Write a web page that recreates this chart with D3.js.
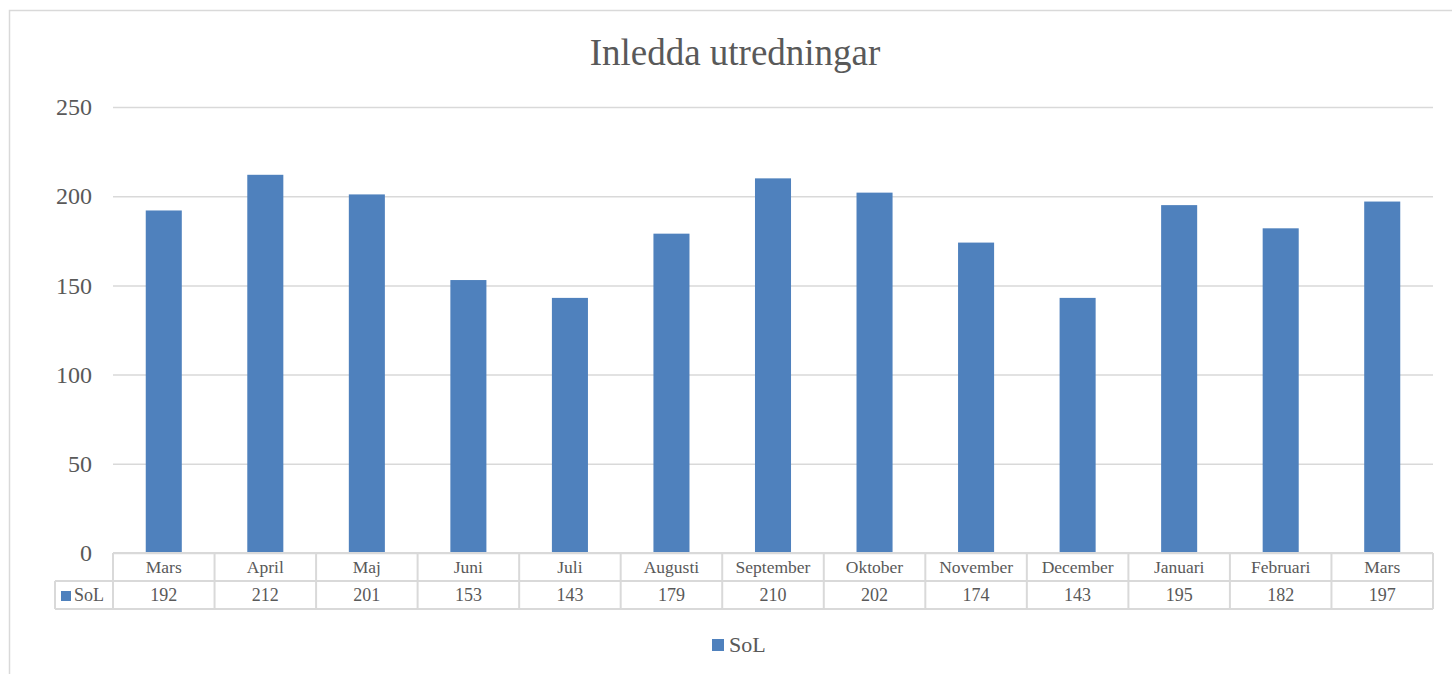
<!DOCTYPE html>
<html><head><meta charset="utf-8">
<script src="https://cdn.jsdelivr.net/npm/d3@7"></script>
<style>body{margin:0;background:#fff;} svg{display:block;}</style>
</head><body>
<script>
const title = "Inledda utredningar";
const seriesName = "SoL";
const categories = ["Mars","April","Maj","Juni","Juli","Augusti","September","Oktober","November","December","Januari","Februari","Mars"];
const values = [192,212,201,153,143,179,210,202,174,143,195,182,197];
const yTicks = [0,50,100,150,200,250];

const W = 1452, H = 674;
const font = "'Liberation Serif','Times New Roman',serif";
const textColor = "#595959", grid = "#d9d9d9", barColor = "#4F81BD";
const svg = d3.select("body").append("svg").attr("width", W).attr("height", H);

svg.append("rect").attr("x",9.5).attr("y",10.5).attr("width",1500).attr("height",800)
  .attr("fill","none").attr("stroke",grid).attr("stroke-width",1.5);

const pLeft = 113, pRight = 1433, pTop = 107, pBottom = 553;
const x = d3.scaleBand().domain(d3.range(categories.length)).range([pLeft,pRight]).paddingInner(0.645).paddingOuter(0.3225);
const xc = d3.scaleBand().domain(d3.range(categories.length)).range([pLeft,pRight]);
const y = d3.scaleLinear().domain([0,250]).range([pBottom,pTop]);

svg.append("text").attr("x",735).attr("y",65).attr("text-anchor","middle")
  .attr("font-family",font).attr("font-size",37).attr("fill",textColor).text(title);

const yAxis = d3.axisLeft(y).tickValues(yTicks).tickSize(-(pRight-pLeft)).tickPadding(21);
const gy = svg.append("g").attr("transform",`translate(${pLeft},0)`).call(yAxis);
gy.select(".domain").remove();
gy.selectAll(".tick line").attr("stroke",grid).attr("stroke-width",1.5);
gy.selectAll(".tick text").attr("font-family",font).attr("font-size",24).attr("fill",textColor);

svg.append("g").selectAll("rect").data(values).join("rect")
  .attr("x",(d,i)=>x(i)).attr("width",x.bandwidth())
  .attr("y",d=>y(d)).attr("height",d=>y(0)-y(d)).attr("fill",barColor);

// data table
const r1 = pBottom, r2 = 581, r3 = 609, tblLeft = 55;
const tg = svg.append("g").attr("stroke",grid).attr("stroke-width",2).attr("fill","none");
tg.append("line").attr("x1",pLeft).attr("x2",pRight).attr("y1",r1).attr("y2",r1);
tg.append("line").attr("x1",tblLeft).attr("x2",pRight).attr("y1",r2).attr("y2",r2);
tg.append("line").attr("x1",tblLeft).attr("x2",pRight).attr("y1",r3).attr("y2",r3);
tg.append("line").attr("x1",tblLeft).attr("x2",tblLeft).attr("y1",r2).attr("y2",r3);
tg.selectAll("line.v").data(d3.range(categories.length+1)).join("line").attr("class","v")
  .attr("x1",i=>pLeft+i*xc.step()).attr("x2",i=>pLeft+i*xc.step()).attr("y1",r1).attr("y2",r3);

svg.append("g").selectAll("text").data(categories).join("text")
  .attr("x",(d,i)=>xc(i)+xc.bandwidth()/2).attr("y",573).attr("text-anchor","middle")
  .attr("font-family",font).attr("font-size",17.5).attr("fill",textColor).text(d=>d);
svg.append("g").selectAll("text").data(values).join("text")
  .attr("x",(d,i)=>xc(i)+xc.bandwidth()/2).attr("y",601).attr("text-anchor","middle")
  .attr("font-family",font).attr("font-size",18).attr("fill",textColor).text(d=>d);
svg.append("rect").attr("x",61).attr("y",591).attr("width",10).attr("height",10).attr("fill",barColor);
svg.append("text").attr("x",74).attr("y",601).attr("font-family",font).attr("font-size",18)
  .attr("fill",textColor).text(seriesName);

// legend
svg.append("rect").attr("x",712).attr("y",639).attr("width",12).attr("height",12).attr("fill",barColor);
svg.append("text").attr("x",729).attr("y",652).attr("font-family",font).attr("font-size",22)
  .attr("fill",textColor).text(seriesName);
</script>
</body></html>
